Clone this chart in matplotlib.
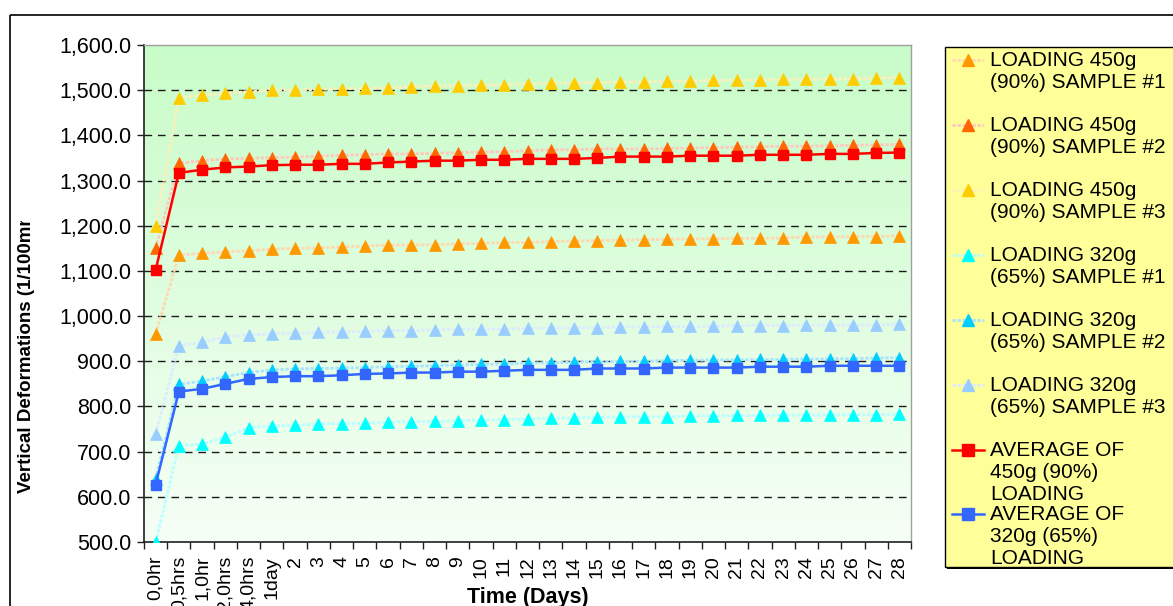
import matplotlib
matplotlib.use('Agg')
import matplotlib.pyplot as plt
import numpy as np
from matplotlib.patches import Rectangle
from matplotlib.ticker import FixedLocator, FuncFormatter
from matplotlib.transforms import Bbox

plt.rcParams['font.family'] = ['Liberation Sans', 'DejaVu Sans']

# ---------------- data ----------------
categories = ["0,0hr", "0,5hrs", "1,0hr", "2,0hrs", "4,0hrs", "1day",
              "2", "3", "4", "5", "6", "7", "8", "9", "10", "11", "12", "13",
              "14", "15", "16", "17", "18", "19", "20", "21", "22", "23",
              "24", "25", "26", "27", "28"]

load450_s1 = [960, 1135, 1139, 1142, 1145, 1148, 1150, 1151, 1153, 1155, 1157,
              1157, 1158, 1160, 1161, 1163, 1163, 1165, 1166, 1167, 1168,
              1169, 1170, 1171, 1171, 1172, 1172, 1173, 1175, 1175, 1176, 1176, 1178]
load450_s2 = [1150, 1338, 1344, 1348, 1349, 1351, 1352, 1354, 1356, 1357, 1359,
              1359, 1360, 1362, 1363, 1364, 1366, 1368, 1368, 1370, 1370,
              1370, 1371, 1372, 1373, 1374, 1375, 1376, 1376, 1377, 1378, 1379, 1380]
load450_s3 = [1200, 1483, 1489, 1493, 1497, 1500, 1500, 1502, 1503, 1504, 1505,
              1508, 1509, 1510, 1511, 1512, 1514, 1516, 1516, 1517, 1518,
              1518, 1520, 1520, 1522, 1522, 1523, 1524, 1524, 1525, 1525, 1527, 1528]
avg450 = [1102, 1317, 1324, 1329, 1331, 1334, 1335, 1335, 1337, 1337, 1340,
          1342, 1344, 1344, 1346, 1346, 1348, 1348, 1348, 1350, 1353,
          1353, 1353, 1355, 1355, 1355, 1357, 1357, 1357, 1359, 1359, 1361, 1362]
load320_s1 = [500, 713, 717, 732, 753, 757, 758, 761, 762, 763, 765,
              766, 767, 768, 770, 771, 772, 774, 775, 776, 777,
              777, 777, 779, 779, 780, 780, 781, 781, 781, 782, 782, 783]
load320_s2 = [640, 849, 856, 866, 875, 881, 883, 884, 885, 886, 888,
              889, 890, 892, 893, 894, 896, 897, 898, 899, 900,
              900, 902, 902, 903, 903, 904, 904, 905, 905, 906, 907, 908]
load320_s3 = [739, 934, 942, 954, 958, 961, 962, 964, 965, 966, 968,
              968, 969, 971, 971, 971, 973, 973, 974, 974, 976,
              976, 977, 977, 977, 979, 979, 979, 980, 980, 980, 980, 982]
avg320 = [627, 833, 839, 850, 861, 865, 867, 867, 869, 872, 873,
          875, 875, 877, 877, 879, 881, 881, 881, 884, 884,
          884, 886, 886, 886, 886, 888, 888, 888, 890, 890, 890, 890]

series_labels = ["LOADING 450g\n(90%) SAMPLE #1", "LOADING 450g\n(90%) SAMPLE #2",
                 "LOADING 450g\n(90%) SAMPLE #3", "LOADING 320g\n(65%) SAMPLE #1",
                 "LOADING 320g\n(65%) SAMPLE #2", "LOADING 320g\n(65%) SAMPLE #3",
                 "AVERAGE OF\n450g (90%)\nLOADING", "AVERAGE OF\n320g (65%)\nLOADING"]
y_ticks = [500, 600, 700, 800, 900, 1000, 1100, 1200, 1300, 1400, 1500, 1600]

# ---------------- styles ----------------
W, H = 1173, 606
series = [load450_s1, load450_s2, load450_s3, load320_s1, load320_s2, load320_s3, avg450, avg320]
marker_colors = ['#FF9900', '#FF6600', '#FFCC00', '#00FFFF', '#00CCFF', '#99CCFF', '#FF0000', '#3366FF']
line_colors = ['#FFD8B0', '#FFC8BC', '#FFEFB8', '#B8FFFF', '#A8E4FF', '#DCEBFF', '#FF0000', '#3366FF']
markers = ['^', '^', '^', '^', '^', '^', 's', 's']
is_avg = [False] * 6 + [True, True]

fig = plt.figure(figsize=(W / 100, H / 100), dpi=100)
fig.patch.set_facecolor('white')

L, R, T, B = 144, 911, 45, 542
ax = fig.add_axes([L / W, (H - B) / H, (R - L) / W, (B - T) / H])
x = np.arange(len(categories))
ax.set_xlim(-0.5, len(categories) - 0.5)

# gradient background (green at top -> near white at bottom)
grad = np.linspace(0, 1, 256).reshape(-1, 1)
top_c = np.array([200, 252, 200]) / 255
bot_c = np.array([246, 255, 246]) / 255
img = top_c[None, None, :] * (1 - grad[:, :, None]) + bot_c[None, None, :] * grad[:, :, None]
ax.imshow(img, extent=[-0.5, len(categories) - 0.5, 500, 1600], origin='upper',
          aspect='auto', zorder=0)
ax.set_ylim(500, 1600)

# grid
for yv in y_ticks[1:-1]:
    ax.axhline(yv, color='#1a1a1a', lw=1.0, dashes=(5.5, 4.2), zorder=1)

# series
for s, mc, lc, mk, av in zip(series, marker_colors, line_colors, markers, is_avg):
    if av:
        ax.plot(x, s, color=lc, lw=1.8, marker=mk, ms=7.5, mfc=mc, mec=mc, zorder=4)
    else:
        ax.plot(x, s, color=lc, lw=2.0, ls=(0, (1.2, 0.6)), zorder=2)
        ax.plot(x, s, ls='none', marker=mk, ms=8.5, mfc=mc, mec=mc, mew=0.5, zorder=3)

# axes styling
for side in ['top', 'right']:
    ax.spines[side].set_color('#A0A0A0')
    ax.spines[side].set_linewidth(1.0)
for side in ['left', 'bottom']:
    ax.spines[side].set_color('#202020')
    ax.spines[side].set_linewidth(1.2)

ax.yaxis.set_major_locator(FixedLocator(y_ticks))
ax.yaxis.set_major_formatter(FuncFormatter(lambda v, p: f"{v:,.1f}"))
ax.tick_params(axis='y', direction='out', length=5, width=1, pad=4, labelsize=15.5,
               colors='#202020', labelcolor='black')

ax.set_xticks(x)
ax.set_xticklabels(categories, rotation=90, va='top', ha='center')
ax.set_xticks(np.arange(len(categories) + 1) - 0.5, minor=True)
ax.tick_params(axis='x', which='major', length=0, pad=10, labelsize=14)
ax.tick_params(axis='x', which='minor', direction='out', length=5, width=1, colors='#202020')

# ---------------- overlay (frame, titles, legend) in pixel coords ----------------
ov = fig.add_axes([0, 0, 1, 1], zorder=10)
ov.set_xlim(0, W)
ov.set_ylim(H, 0)
ov.axis('off')
ov.patch.set_alpha(0)

ov.add_patch(Rectangle((10, 15), W + 20, H + 20, fill=False, ec='black', lw=1.2))

ov.text(528, 597, "Time (Days)", ha='center', va='center', fontsize=15.5, fontweight='bold')
yl = ov.text(27, 493, "Vertical Deformations (1/100mm)", ha='center', va='bottom',
             rotation=90, fontsize=13.5, fontweight='bold')
yl.set_clip_box(Bbox.from_extents(0, 0, W, H - 221))
yl.set_clip_on(True)

# legend box
ov.add_patch(Rectangle((947, 49), 260, 520, fc='black', ec='black', lw=0, zorder=1))
ov.add_patch(Rectangle((945, 47), 260, 520, fc='#FFFF99', ec='black', lw=1.0, zorder=2))
first_line_y = [60, 125, 190, 255, 320, 385, 450, 514]
for lbl, yy, mc, lc, mk, av in zip(series_labels, first_line_y, marker_colors, line_colors,
                                   markers, is_avg):
    if av:
        ov.plot([952, 984], [yy, yy], color=lc, lw=1.8, zorder=3)
    else:
        ov.plot([952, 984], [yy, yy], color=lc, lw=2.0, ls=(0, (1.2, 0.6)), zorder=3)
    ov.plot([968], [yy], marker=mk, ms=8, mfc=mc, mec=mc, ls='none', zorder=4)
    ov.text(990, yy - 9, lbl, ha='left', va='top', fontsize=15, linespacing=1.2, zorder=5)

fig.savefig('out.png', dpi=100)
